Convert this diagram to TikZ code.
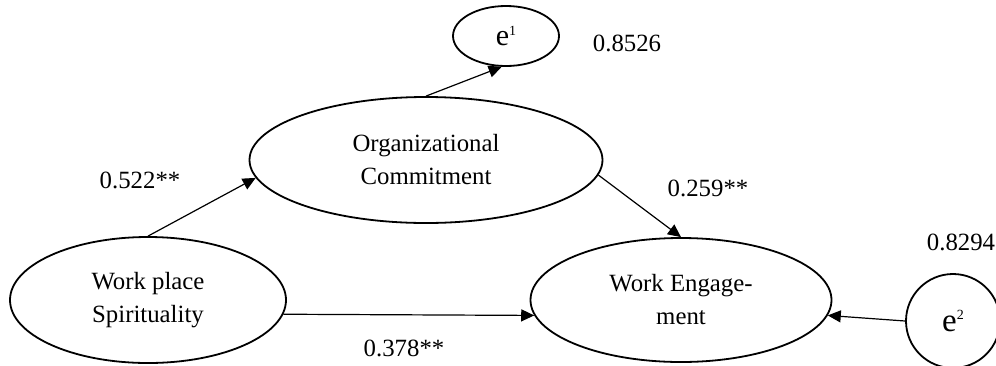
\documentclass[tikz,border=0pt]{standalone}
\usepackage{fontspec}
\setmainfont{Liberation Serif}
\usetikzlibrary{shapes.geometric,arrows.meta}

\newcommand{\errsup}[1]{\raisebox{0.75ex}{\fontsize{7}{8}\selectfont #1}}

\begin{document}
\begin{tikzpicture}[x=0.5pt,y=-0.5pt,
  var/.style={ellipse,draw,line width=0.9pt,inner sep=0pt,align=center,font=\fontsize{12.4}{16.5}\selectfont},
  err/.style={draw,line width=0.9pt,inner sep=0pt,font=\fontsize{15}{16}\selectfont},
  coef/.style={inner sep=0pt,font=\fontsize{12.4}{15}\selectfont},
  path/.style={-{Triangle[length=6.5pt,width=6pt]},line width=0.6pt}]

\useasboundingbox (0,0) rectangle (996,365);

\node[var,minimum width=138pt,minimum height=63pt] (wps) at (148,300) {Work place\\Spirituality};
\node[var,minimum width=176.5pt,minimum height=63pt] (oc) at (426,160) {Organizational\\Commitment};
\node[var,minimum width=150.5pt,minimum height=62pt] (we) at (681,300) {Work Engage-\\ment};

\node[err,ellipse,minimum width=53pt,minimum height=30pt] (e1) at (506,36) {e\errsup{1}};
\node[err,circle,minimum size=47pt,font=\fontsize{16.5}{17}\selectfont] (e2) at (953,321) {e\errsup{2}};

\node[coef] (c1) at (140,180) {0.522**};
\node[coef] (c2) at (708,188) {0.259**};
\node[coef] (c3) at (404,348) {0.378**};
\node[coef] (r1) at (627,43) {0.8526};
\node[coef] (r2) at (961,242) {0.8294};

\draw[path] (wps.north) -- (oc.186);
\draw[path] (oc.north) -- (e1.262);
\draw[path] (oc.-5) -- (we.north);
\draw[path] (wps.-6) -- (we.186);
\draw[path] (e2.west) -- (we.-6);

\end{tikzpicture}
\end{document}
